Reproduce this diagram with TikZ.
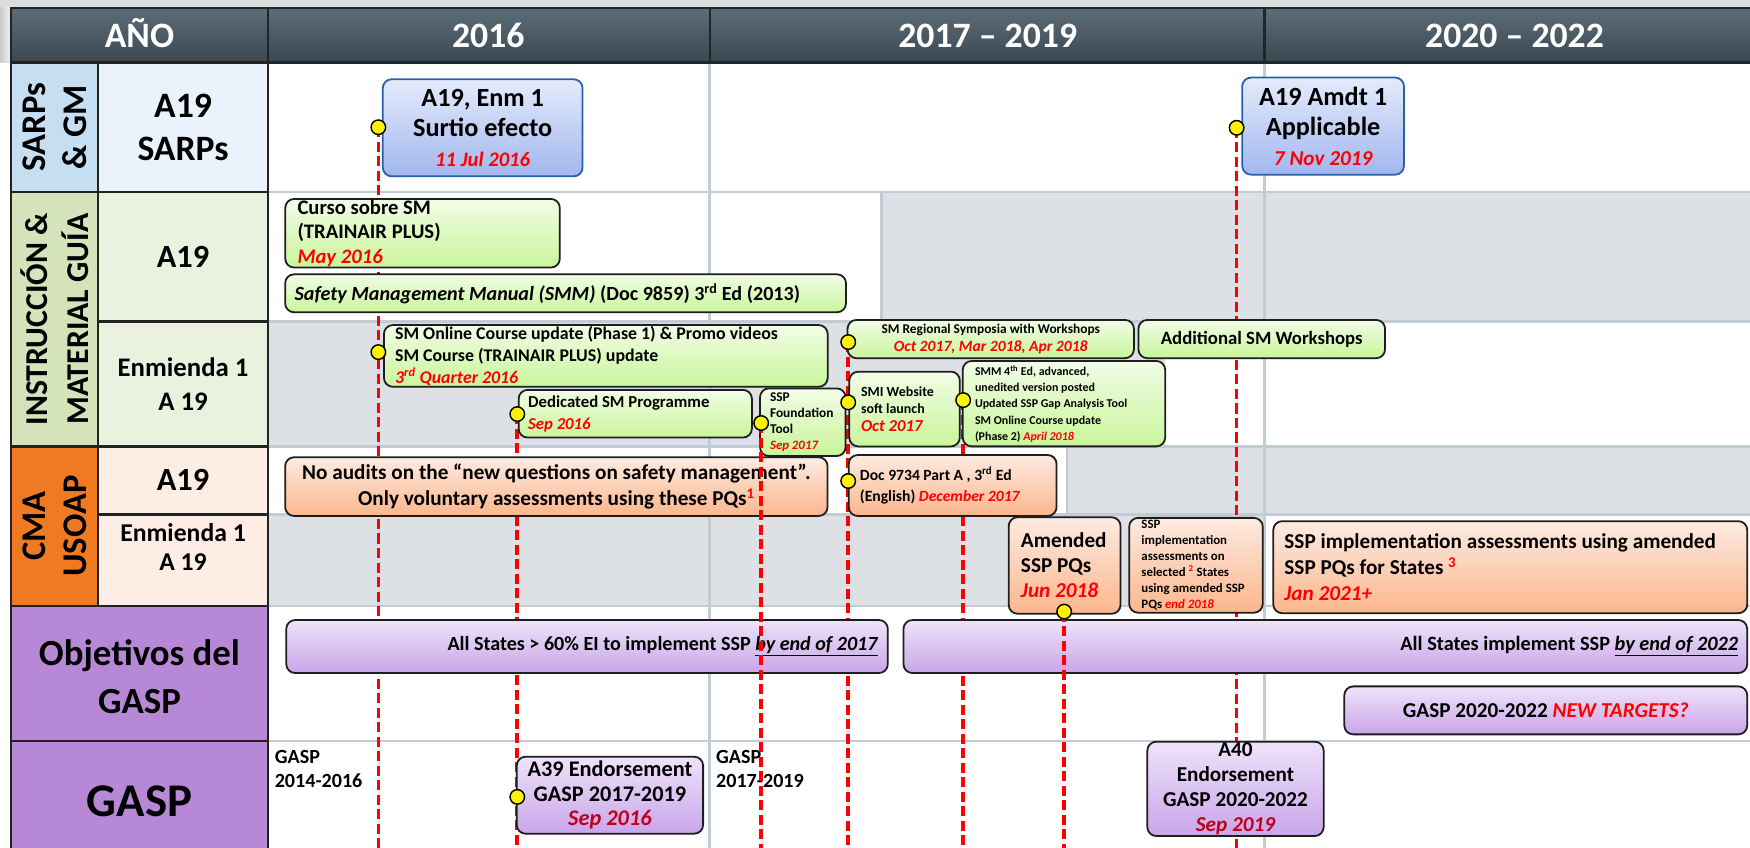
\documentclass[tikz,border=0pt]{standalone}
\usepackage{fontspec}
\setmainfont{Carlito}

\definecolor{framegray}{HTML}{DCDCDC}
\definecolor{headtop}{HTML}{5D6D78}
\definecolor{headbot}{HTML}{3A4751}
\definecolor{headline}{HTML}{1E262C}
\definecolor{celldark}{HTML}{222222}
\definecolor{sarpsdark}{HTML}{C5DEF2}
\definecolor{sarpslight}{HTML}{EAF2FB}
\definecolor{instrdark}{HTML}{D4E3B9}
\definecolor{instrlight}{HTML}{EBF1DF}
\definecolor{cmadark}{HTML}{F07A22}
\definecolor{cmalight}{HTML}{FDEDE5}
\definecolor{gasppurple}{HTML}{B688D6}
\definecolor{shadegray}{HTML}{DDE0E4}
\definecolor{gridgray}{HTML}{C2CCD4}
\definecolor{bluetop}{HTML}{E4EBFC}
\definecolor{bluebot}{HTML}{A2B7EE}
\definecolor{blueline}{HTML}{2860AE}
\definecolor{greentop}{HTML}{F1FDE6}
\definecolor{greenbot}{HTML}{C9F59A}
\definecolor{orangetop}{HTML}{FDEBE2}
\definecolor{orangebot}{HTML}{FBB68C}
\definecolor{purpletop}{HTML}{EEE3F9}
\definecolor{purplebot}{HTML}{C9A5EA}
\definecolor{boxline}{HTML}{1E1E1E}
\definecolor{darkred}{HTML}{C0001A}

\tikzstyle{tlbox}=[rectangle,rounded corners=8pt,draw=boxline,line width=1.6pt,inner sep=0pt,text=black]
\tikzstyle{bluebox}=[tlbox,draw=blueline,top color=bluetop,bottom color=bluebot,align=center]
\tikzstyle{greenbox}=[tlbox,top color=greentop,bottom color=greenbot]
\tikzstyle{orangebox}=[tlbox,top color=orangetop,bottom color=orangebot]
\tikzstyle{purplebox}=[tlbox,top color=purpletop,bottom color=purplebot]
\tikzstyle{milestonedot}=[circle,draw=black,line width=1.3pt,fill=yellow,minimum size=13pt,inner sep=0pt]
\tikzstyle{milestone}=[draw=red,line width=3.3pt,dash pattern=on 9pt off 4pt]
\tikzstyle{gridline}=[draw=gridgray,line width=2.5pt]
\tikzstyle{cell}=[draw=celldark,line width=2pt]
\tikzstyle{headcell}=[draw=headline,line width=2pt,top color=headtop,bottom color=headbot]
\tikzstyle{headtext}=[text=white,anchor=base,font=\setfs{32}{38}]

\newcommand\setfs[2]{\fontsize{#1}{#2}\selectfont\bfseries}
\newcommand\reddate[1]{{\color{red}\itshape #1}}
\newcommand\darkdate[1]{{\color{darkred}\itshape #1}}

\begin{document}
\begin{tikzpicture}[x=1pt,y=-1pt]
	\useasboundingbox (0,0) rectangle (1568,759);
	\fill[framegray] (0,0) rectangle (1568,7);
	\shade[left color=gray!40,right color=gray!10] (0,7) rectangle (10,56);
	% shaded cells and grid
	\fill[shadegray] (789.6,172) rectangle (1568,288);
	\fill[shadegray] (240,288) rectangle (1044,400);
	\fill[shadegray] (956,400) rectangle (1568,461);
	\fill[shadegray] (240,461) rectangle (1133,543);
	\foreach \y in {172,288,400,461,543,664}
		\draw[gridline] (240,\y) -- (1568,\y);
	\foreach \x in {636,1133}
		\draw[gridline] (\x,56) -- (\x,762);
	\draw[gridline] (789.6,172) -- (789.6,288);
	\draw[gridline] (956,400) -- (956,461);

	% header
	\draw[headcell] (10,7) rectangle (240,56);
	\draw[headcell] (240,7) rectangle (636,56);
	\draw[headcell] (636,7) rectangle (1133,56);
	\draw[headcell] (1133,7) rectangle (1575,56);
	\node[headtext] (ano) at (125,43) {AÑO};
	\node[headtext] (y2016) at (437.5,43) {2016};
	\node[headtext] (y1719) at (885,43) {2017 – 2019};
	\node[headtext] (y2022) at (1357,43) {2020 – 2022};

	% row labels
	\draw[cell,fill=sarpsdark] (10,56) rectangle (88,172);
	\draw[cell,fill=sarpslight] (88,56) rectangle (240,172);
	\draw[cell,fill=instrdark] (10,172) rectangle (88,400);
	\draw[cell,fill=instrlight] (88,172) rectangle (240,288);
	\draw[cell,fill=instrlight] (88,288) rectangle (240,400);
	\draw[cell,fill=cmadark] (10,400) rectangle (88,543);
	\draw[cell,fill=cmalight] (88,400) rectangle (240,461);
	\draw[cell,fill=cmalight] (88,461) rectangle (240,543);
	\draw[cell,fill=gasppurple] (10,543) rectangle (240,664);
	\draw[cell,fill=gasppurple] (10,664) rectangle (240,765);
	\node[rotate=90,align=center,font=\setfs{31}{37}] (sarps) at (49,114) {SARPs\\\& GM};
	\node[align=center,font=\setfs{32}{38}] (a19sarps) at (164,114) {A19\\SARPs};
	\node[rotate=90,align=center,font=\setfs{28.5}{36}] (instr) at (49,286) {INSTRUCCIÓN \&\\MATERIAL GUÍA};
	\node[font=\setfs{29}{34}] (a19instr) at (164,230) {A19};
	\node[align=center,font=\setfs{24}{31}] (enminstr) at (164,344) {Enmienda 1\\A 19};
	\node[rotate=90,align=center,font=\setfs{31}{37}] (cma) at (49,471.5) {CMA\\USOAP};
	\node[font=\setfs{29}{34}] (a19cma) at (164,430) {A19};
	\node[align=center,font=\setfs{23}{26}] (enmcma) at (164,490) {Enmienda 1\\A 19};
	\node[align=center,font=\setfs{33}{43}] (objetivos) at (125,606) {Objetivos del\\GASP};
	\node[font=\setfs{42}{48}] (gasp) at (125,718) {GASP};
	\node[align=flush left,anchor=west,inner sep=0pt,font=\setfs{18}{22}] (gasp1416) at (246,689) {GASP\\2014-2016};
	\node[align=flush left,anchor=west,inner sep=0pt,font=\setfs{18}{22}] (gasp1719) at (641.5,689) {GASP\\2017-2019};

	% milestone points
	\coordinate (p1a) at (339,114);
	\coordinate (p1b) at (339,315.5);
	\coordinate (p2a) at (463.5,371);
	\coordinate (p2b) at (463.5,714);
	\coordinate (p3) at (682,379);
	\coordinate (p4a) at (760,306.5);
	\coordinate (p4b) at (760,360.5);
	\coordinate (p4c) at (760,431);
	\coordinate (p5) at (863,358.5);
	\coordinate (p6) at (953.5,548);
	\coordinate (p7) at (1108,114.5);
	\coordinate (b1) at (339,762);
	\coordinate (b2) at (463.5,762);
	\coordinate (b3) at (682,762);
	\coordinate (b4) at (760,762);
	\coordinate (b5) at (863,762);
	\coordinate (b6) at (953.5,762);
	\coordinate (b7) at (1108,762);
	\foreach \source/\dest in {p1a/b1, p2a/b2, p4a/b4, p5/b5, p7/b7}
		\path[milestone] (\source) -- (\dest);

	% SARPs
	\node[bluebox,minimum width=179pt,minimum height=87pt,font=\setfs{23.5}{27}] (enm1) at (432.5,114.5) {A19, Enm 1\\Surtio efecto\\{\fontsize{18.5}{27}\selectfont\reddate{11 Jul 2016}}};
	\node[bluebox,minimum width=145pt,minimum height=87pt,font=\setfs{23.5}{27}] (amdt1) at (1185.5,113) {A19 Amdt 1\\Applicable\\{\fontsize{19}{27}\selectfont\reddate{7 Nov 2019}}};

	% training and guidance
	\node[greenbox,minimum width=246pt,minimum height=61.5pt,text width=224pt,inner xsep=11pt,align=flush left,font=\setfs{18.5}{22}] (curso) at (378.6,209) {Curso sobre SM\\(TRAINAIR PLUS)\\\reddate{May 2016}};
	\node[greenbox,minimum width=502.5pt,minimum height=34pt,text width=485.5pt,inner xsep=8.5pt,align=flush left,font=\setfs{18}{22}] (smm) at (506.75,262.8) {\textit{Safety Management Manual (SMM)} (Doc 9859) 3\textsuperscript{rd} Ed (2013)};
	\node[greenbox,minimum width=397.6pt,minimum height=55.3pt,text width=377.6pt,inner xsep=10pt,align=flush left,font=\setfs{16}{20}] (online) at (542.8,318.9) {SM Online Course update (Phase 1) \& Promo videos\\SM Course (TRAINAIR PLUS) update\\\reddate{3\textsuperscript{rd} Quarter 2016}};
	\node[greenbox,minimum width=209pt,minimum height=42.7pt,text width=192pt,inner xsep=8.5pt,align=flush left,font=\setfs{15}{20}] (dedicated) at (569.2,370.7) {Dedicated SM Programme\\\reddate{Sep 2016}};
	\node[greenbox,minimum width=76.7pt,minimum height=60.6pt,text width=58.7pt,inner xsep=9pt,align=flush left,font=\setfs{12}{14.5}] (foundation) at (719.3,378.3) {SSP\\Foundation\\Tool\\{\fontsize{11.5}{14.5}\selectfont\reddate{Sep 2017}}};
	\node[greenbox,minimum width=256.6pt,minimum height=34.3pt,align=center,font=\setfs{12}{16}] (symposia) at (887.7,303.8) {SM Regional Symposia with Workshops\\{\fontsize{14}{16}\selectfont\reddate{Oct 2017, Mar 2018, Apr 2018}}};
	\node[greenbox,minimum width=221pt,minimum height=34.3pt,font=\setfs{16.8}{20}] (additional) at (1130.5,303.8) {Additional SM Workshops};
	\node[greenbox,minimum width=99pt,minimum height=67pt,text width=78pt,inner xsep=10.5pt,align=flush left,font=\setfs{12.5}{15.5}] (smi) at (810.5,366.5) {SMI Website\\soft launch\\{\fontsize{15}{17}\selectfont\reddate{Oct 2017}}};
	\node[greenbox,minimum width=181.4pt,minimum height=76.5pt,text width=159.4pt,inner xsep=11pt,align=flush left,font=\setfs{10.7}{14.5}] (smm4) at (953.3,361.7) {SMM 4\textsuperscript{th} Ed, advanced,\\unedited version posted\\Updated SSP Gap Analysis Tool\\SM Online Course update\\(Phase 2) \reddate{April 2018}};

	% CMA USOAP
	\node[orangebox,minimum width=486pt,minimum height=52.6pt,align=center,font=\setfs{19}{23}] (noaudits) at (498.5,436) {No audits on the “new questions on safety management”.\\Only voluntary assessments using these PQs\textsuperscript{\color{red}1}};
	\node[orangebox,minimum width=186.2pt,minimum height=54.6pt,text width=166.2pt,inner xsep=10pt,align=flush left,font=\setfs{14}{19}] (doc9734) at (853.6,435) {Doc 9734 Part A , 3\textsuperscript{rd} Ed\\(English) \reddate{December 2017}};
	\node[orangebox,minimum width=100.2pt,minimum height=86.5pt,text width=78.2pt,inner xsep=11pt,align=flush left,font=\setfs{19}{22.5}] (amended) at (953.9,506.7) {Amended\\SSP PQs\\\reddate{Jun 2018}};
	\node[orangebox,minimum width=119.7pt,minimum height=85pt,text width=97.7pt,inner xsep=11pt,align=flush left,font=\setfs{11.5}{14.4}] (selected) at (1071.6,506.5) {SSP\\implementation\\assessments on\\selected \textsuperscript{\color{red}2} States\\using amended SSP\\PQs \reddate{end 2018}};
	\node[orangebox,minimum width=424.7pt,minimum height=82.5pt,text width=404.7pt,inner xsep=10pt,align=flush left,font=\setfs{19}{23.5}] (jan2021) at (1353.2,508.2) {SSP implementation assessments using amended\\SSP PQs for States \textsuperscript{\color{red}3}\\\reddate{Jan 2021+}};

	% GASP targets
	\node[purplebox,minimum width=539pt,minimum height=47.5pt,text width=522pt,inner xsep=8.5pt,align=flush right,font=\setfs{18}{21}] (target17) at (526,579.3) {All States > 60\% EI to implement SSP \underline{\textit{by end of 2017}}};
	\node[purplebox,minimum width=756pt,minimum height=47.5pt,text width=740pt,inner xsep=8pt,align=flush right,font=\setfs{18.2}{21}] (target22) at (1187.5,579.3) {All States implement SSP \underline{\textit{by end of 2022}}};
	\node[purplebox,minimum width=361pt,minimum height=43pt,font=\setfs{19}{21}] (newtargets) at (1385,636.5) {GASP 2020-2022 \reddate{NEW TARGETS?}};
	\node[purplebox,minimum width=167pt,minimum height=69pt,align=center,font=\setfs{20}{22}] (a39) at (546.5,712.5) {A39 Endorsement\\GASP 2017-2019\\\darkdate{Sep 2016}};
	\node[purplebox,minimum width=158pt,minimum height=84.5pt,align=center,font=\setfs{19}{22.5}] (a40) at (1107,706.8) {A40\\Endorsement\\GASP 2020-2022\\\darkdate{Sep 2019}};

	% lines that run over the boxes
	\foreach \source/\dest in {p3/b3, p6/b6}
		\path[milestone] (\source) -- (\dest);
	\foreach \p in {1a,1b,2a,2b,3,4a,4b,4c,5,6,7}
		\node[milestonedot] (d\p) at (p\p) {};
\end{tikzpicture}
\end{document}
